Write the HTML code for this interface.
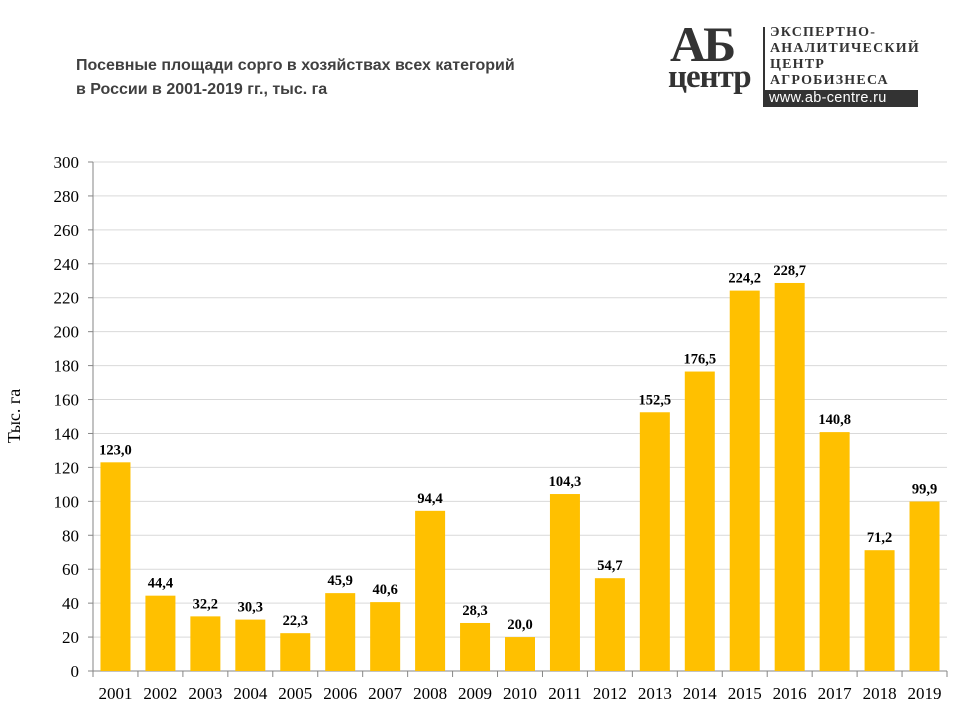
<!DOCTYPE html>
<html><head><meta charset="utf-8"><style>
body{margin:0;background:#fff;width:960px;height:720px;overflow:hidden;position:relative}
.t{position:absolute;left:76px;top:54px;font:bold 16px "Liberation Sans","Noto Sans CJK SC",sans-serif;color:#404040;line-height:24px}
</style></head><body>
<div class="t">Посевные площади сорго в хозяйствах всех категорий<br>в России в 2001-2019 гг., тыс. га</div>
<div style="position:absolute;left:668px;top:25px;width:255px;height:85px">
 <div style="position:absolute;left:2px;top:-10px;font:bold 50px 'Liberation Serif',serif;color:#333;letter-spacing:-3px">АБ</div>
 <div style="position:absolute;left:0px;top:34px;font:bold 33px 'Liberation Serif',serif;color:#333;letter-spacing:-1px">центр</div>
 <div style="position:absolute;left:95px;top:2px;width:2px;height:78px;background:#333"></div>
 <div style="position:absolute;left:102px;top:0px;font:bold 14px 'Liberation Serif',serif;color:#333;line-height:16px;letter-spacing:1.2px">ЭКСПЕРТНО-<br>АНАЛИТИЧЕСКИЙ<br>ЦЕНТР<br>АГРОБИЗНЕСА</div>
 <div style="position:absolute;left:95px;top:65px;width:155px;height:17px;background:#333;color:#fff;font:14.5px 'Liberation Sans',sans-serif;line-height:17px;padding-left:6px;box-sizing:border-box;letter-spacing:0.3px">www.ab-centre.ru</div>
</div>
<svg id="c" width="960" height="720" style="position:absolute;left:0;top:0"></svg>
<script>
const categories=["2001","2002","2003","2004","2005","2006","2007","2008","2009","2010","2011","2012","2013","2014","2015","2016","2017","2018","2019"];
const values=[123.0,44.4,32.2,30.3,22.3,45.9,40.6,94.4,28.3,20.0,104.3,54.7,152.5,176.5,224.2,228.7,140.8,71.2,99.9];
const labels=["123,0","44,4","32,2","30,3","22,3","45,9","40,6","94,4","28,3","20,0","104,3","54,7","152,5","176,5","224,2","228,7","140,8","71,2","99,9"];
const yTicks=[0,20,40,60,80,100,120,140,160,180,200,220,240,260,280,300];
const svg=document.getElementById('c');const NS='http://www.w3.org/2000/svg';
const X0=93,X1=947,Y0=671,Y1=162,YMAX=300;
const band=(X1-X0)/categories.length;
const y=v=>Y0-(v/YMAX)*(Y0-Y1);
const x=i=>X0+i*band;
function mk(t,a){const e=document.createElementNS(NS,t);for(const k in a)e.setAttribute(k,a[k]);svg.appendChild(e);return e;}
yTicks.forEach(t=>{
 if(t>0){const g=mk('line',{x1:X0,x2:X1,y1:y(t),y2:y(t),stroke:'#d9d9d9','stroke-width':1});
 
 }
 mk('line',{x1:X0-5,x2:X0,y1:y(t),y2:y(t),stroke:'#868686'});
 const l=mk('text',{x:X0-14,y:y(t)+6,'text-anchor':'end','font-family':'Liberation Serif,serif','font-size':17,fill:'#000'});l.textContent=t;
 
 
});
mk('line',{x1:X0,x2:X0,y1:Y1,y2:Y0,stroke:'#868686'});
mk('line',{x1:X0,x2:X1,y1:Y0,y2:Y0,stroke:'#868686'});
categories.forEach((c,i)=>{
 mk('line',{x1:x(i),x2:x(i),y1:Y0,y2:Y0+6,stroke:'#868686'});
 const bw=30,cx=x(i)+band/2;
 const r=mk('rect',{x:cx-bw/2,y:y(values[i]),width:bw,height:Y0-y(values[i]),fill:'#FFC000'});
 
 
 const v=mk('text',{x:cx,y:y(values[i])-8,'text-anchor':'middle','font-family':'Liberation Serif,serif','font-size':14.5,'font-weight':'bold',fill:'#000'});v.textContent=labels[i];
 
 
 const t=mk('text',{x:cx,y:699,'text-anchor':'middle','font-family':'Liberation Serif,serif','font-size':17,fill:'#000'});t.textContent=c;
 
 
});
mk('line',{x1:X1,x2:X1,y1:Y0,y2:Y0+6,stroke:'#868686'});
const yt=mk('text',{x:0,y:0,transform:'translate(20,416) rotate(-90)','text-anchor':'middle','font-family':'Liberation Serif,serif','font-size':18,fill:'#000'});yt.textContent='Тыс. га';


</script>
</body></html>
